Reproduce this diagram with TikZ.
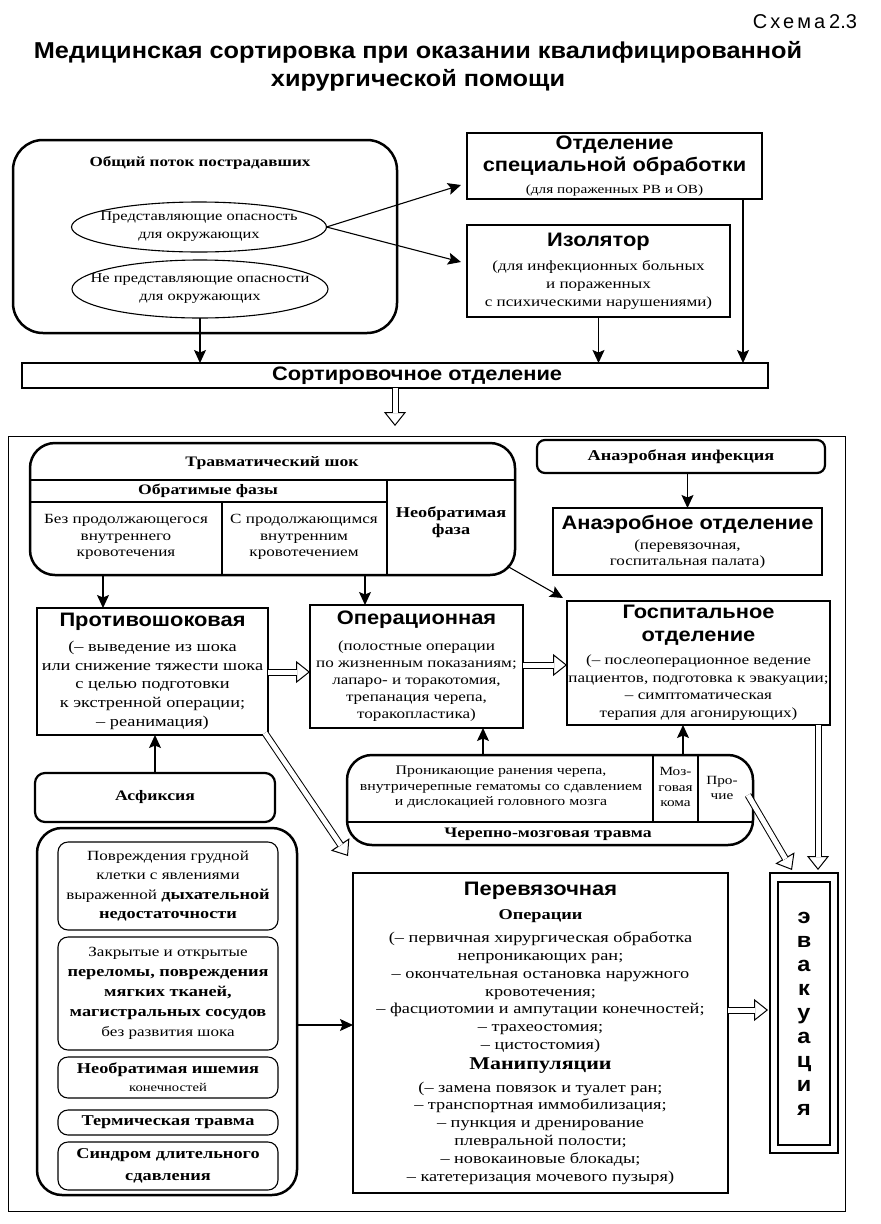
\documentclass[tikz,border=0pt]{standalone}
\usepackage{fontspec}
\setmainfont{Liberation Serif}[FakeStretch=1.22]
\newfontfamily\hs{Liberation Sans}[FakeStretch=1.12]
\newfontfamily\ttlf{Liberation Sans}[FakeStretch=1.1]
\newfontfamily\schf{Liberation Sans}[LetterSpace=15]
\newfontfamily\schn{Liberation Sans}
\usetikzlibrary{arrows.meta,calc,shapes.geometric}
\tikzset{
  every node/.style={inner sep=0pt,outer sep=0pt},
  tx/.style={align=center,font=\fontsize{14}{#1}\selectfont},
  tx/.default=17.5,
  txl/.style={align=center,font=\fontsize{15}{#1}\selectfont},
  box/.style={draw,line width=1.1pt},
  rbox/.style={draw,line width=2.5pt,rounded corners=#1},
  ibox/.style={draw,line width=1.1pt,rounded corners=10pt,minimum width=220pt},
  arr/.style={line width=1.1pt,-{Stealth[length=13pt,width=12pt,inset=2.5pt]}},
  hshaft/.style={line width=1pt,double=white,double distance=5pt},
  htip/.style={line width=1pt,-{Triangle[open,length=14pt,width=22pt]}},
}
\newcommand\hsb[1][19.5]{\hs\bfseries\fontsize{#1}{#1}\selectfont}
\newcommand\sbf{\bfseries\fontsize{15}{17}\selectfont}
\newcommand\harrow[2]{%
  \draw[htip] ($(#2)!20pt!(#1)$) -- (#2);
  \draw[hshaft] (#1) -- ($(#2)!13pt!(#1)$);}
\begin{document}
\begin{tikzpicture}[x=1pt,y=-1pt]
\fill[white] (0,0) rectangle (881,1224);
% title
\node (sch) at (805,22) {\schf\fontsize{20}{20}\selectfont Схема\hspace{4pt}\schn 2.3};
\node[align=center,font=\ttlf\bfseries\fontsize{23}{28}\selectfont] (ttl) at (418,66) {Медицинская сортировка при оказании квалифицированной\\хирургической помощи};
% top left group
\node[rbox=30pt,minimum width=384pt,minimum height=193pt] (flow) at (205,236.5) {};
\node[font=\bfseries\fontsize{14}{17}\selectfont] (flowt) at (200,163) {Общий поток пострадавших};
\node[ellipse,draw,line width=1.1pt,minimum width=255pt,minimum height=50pt] (e1) at (199,227) {};
\node[align=center,font=\fontsize{13.5}{18}\selectfont] (e1t) at (e1) {Представляющие опасность\\для окружающих};
\node[ellipse,draw,line width=1.1pt,minimum width=256pt,minimum height=58pt] (e2) at (200,289) {};
\node[align=center,font=\fontsize{13.5}{18}\selectfont] (e2t) at (e2) {Не представляющие опасности\\для окружающих};
% top right
\node[box,minimum width=295pt,minimum height=66pt,tx=22] (spec) at (614.5,166) {{\hsb Отделение}\\{\hsb специальной обработки}\\{\fontsize{12.5}{14}\selectfont(для пораженных РВ и ОВ)}};
\node[box,minimum width=263pt,minimum height=92pt,tx=18] (iso) at (598.5,271) {{\hsb Изолятор}\\[6pt](для инфекционных больных\\и пораженных\\с психическими нарушениями)};
% sorting
\node[box,minimum width=746pt,minimum height=25pt] (sort) at (395,375.5) {};
\node (sortt) at (414,376) {\hsb[19.5] Сортировочное отделение};
\coordinate (s1) at ($(spec.south)+(128.5,0)$);
\draw[arr] (e1.east) -- ($(spec.west)+(-6,19)$);
\draw[arr] (e1.east) -- ($(iso.west)+(-6,-9)$);
\draw[arr] (e2.south) -- (e2.south |- sort.north);
\draw[arr] (iso.south) -- (iso.south |- sort.north);
\draw[arr] (s1) -- (s1 |- sort.north);
\coordinate (h1s) at (sort.south);
\coordinate (h1e) at ($(sort.south)+(0,38)$);
\harrow{h1s}{h1e}
% frame
\node[box,line width=1pt,minimum width=837pt,minimum height=775pt] (frame) at (426.5,823.5) {};
% shock
\node[rbox=25pt,minimum width=485pt,minimum height=132pt] (shock) at (272.5,509) {};
\draw[line width=1.1pt] (30,480) -- (515,480) (30,502) -- (387,502) (387,480) -- (387,575) (222,502) -- (222,575);
\node[font=\bfseries\fontsize{14.5}{17}\selectfont] (shk1) at (272,463) {Травматический шок};
\node[font=\bfseries\fontsize{14.5}{17}\selectfont] (shk2) at (208,491) {Обратимые фазы};
\node[align=center,font=\fontsize{14}{16.5}\selectfont] (shk3) at (126,537) {Без продолжающегося\\внутреннего\\кровотечения};
\node[align=center,font=\fontsize{14}{16.5}\selectfont] (shk4) at (304,537) {С продолжающимся\\внутренним\\кровотечением};
\node[align=center,font=\bfseries\fontsize{15}{17}\selectfont] (shk5) at (451,522) {Необратимая\\фаза};
% anaerobic
\node[rbox=8pt,line width=2.2pt,minimum width=288pt,minimum height=33pt,font=\bfseries\fontsize{15}{17}\selectfont] (ainf) at (681,456.5) {Анаэробная инфекция};
\node[box,minimum width=269pt,minimum height=67pt,tx=16] (adep) at (687.5,541.5) {{\hsb Анаэробное отделение}\\[4pt](перевязочная,\\госпитальная палата)};
\draw[arr] (adep.north |- ainf.south) -- (adep.north);
% row 2
\node[box,minimum width=231pt,minimum height=127pt,txl=18.75] (anti) at (152.5,671.5) {{\hsb Противошоковая}\\[6pt](– выведение из шока\\или снижение тяжести шока\\с целью подготовки\\к экстренной операции;\\– реанимация)};
\node[box,minimum width=213pt,minimum height=123pt,tx=17] (op) at (416.5,666.5) {{\hsb Операционная}\\[9pt](полостные операции\\по жизненным показаниям;\\лапаро- и торакотомия,\\трепанация черепа,\\торакопластика)};
\node[box,minimum width=263pt,minimum height=124pt,tx=17.7] (hosp) at (698.5,663) {{\hsb Госпитальное}\\[5pt]{\hsb отделение}\\[5pt](– послеоперационное ведение\\пациентов, подготовка к эвакуации;\\– симптоматическая\\терапия для агонирующих)};
\coordinate (a1) at ($(shock.south)+(-169.5,0)$);
\coordinate (a2) at ($(shock.south)+(92.5,0)$);
\draw[arr] (a1) -- (a1 |- anti.north);
\draw[arr] (a2) -- (a2 |- op.north);
\draw[arr] ($(shock.south east)+(-8,-9)$) -- ($(hosp.north west)+(-4,-3)$);
\coordinate (h2s) at ($(anti.east)+(0,0.5)$);
\coordinate (h2e) at (op.west |- h2s);
\harrow{h2s}{h2e}
\coordinate (h3s) at ($(op.east)+(0,-1.5)$);
\coordinate (h3e) at (hosp.west |- h3s);
\harrow{h3s}{h3e}
% TBI
\node[rbox=25pt,minimum width=406pt,minimum height=90pt] (tbi) at (550,800) {};
\draw[line width=1.1pt] (347,822) -- (753,822) (653,755) -- (653,822) (698,755) -- (698,822);
\node[align=center,font=\fontsize{13}{15.5}\selectfont] (tbi1) at (501,787) {Проникающие ранения черепа,\\внутричерепные гематомы со сдавлением\\и дислокацией головного мозга};
\node[align=center,font=\fontsize{12.5}{15.5}\selectfont] (tbi2) at (675.5,787) {Моз-\\говая\\кома};
\node[align=center,font=\fontsize{12.5}{15.5}\selectfont] (tbi3) at (722,788) {Про-\\чие};
\node[font=\bfseries\fontsize{14.5}{17}\selectfont] (tbi4) at (548,834) {Черепно-мозговая травма};
\coordinate (a3) at ($(tbi.north)+(-67,0)$);
\coordinate (a4) at ($(tbi.north)+(133,0)$);
\draw[arr] (a3) -- (a3 |- op.south);
\draw[arr] (a4) -- (a4 |- hosp.south);
% asphyxia
\node[rbox=10pt,line width=2.2pt,minimum width=240pt,minimum height=49pt,font=\bfseries\fontsize{14.5}{17}\selectfont] (asf) at (155,797.5) {Асфиксия};
\draw[arr] (asf.north) -- (asf.north |- anti.south);
% left group
\node[rbox=25pt,minimum width=260pt,minimum height=367pt] (grp) at (167,1011.5) {};
\node[ibox,minimum height=88pt,tx=19.3] (b1) at (168,886) {Повреждения грудной\\клетки с явлениями\\выраженной {\sbf дыхательной}\\{\sbf недостаточности}};
\node[ibox,minimum height=113pt,tx=20] (b2) at (168,993.5) {Закрытые и открытые\\{\sbf переломы, повреждения}\\{\sbf мягких тканей,}\\{\sbf магистральных сосудов}\\без развития шока};
\node[ibox,minimum height=41pt,tx=18] (b3) at (168,1077.5) {{\sbf Необратимая ишемия}\\{\fontsize{12}{14}\selectfont конечностей}};
\node[ibox,minimum height=25pt,tx=18] (b4) at (168,1122.5) {{\sbf Термическая травма}};
\node[ibox,minimum height=48pt,tx=22] (b5) at (168,1166) {{\sbf Синдром длительного}\\{\sbf сдавления}};
% dressing
\node[box,minimum width=375pt,minimum height=320pt,txl=17.8] (per) at (540.5,1033) {{\hsb Перевязочная}\\[7pt]{\sbf Операции}\\[5pt](– первичная хирургическая обработка\\непроникающих ран;\\– окончательная остановка наружного\\кровотечения;\\– фасциотомии и ампутации конечностей;\\– трахеостомия;\\– цистостомия)\\[2pt]{\bfseries\fontsize{18}{20}\selectfont Манипуляции}\\[5pt](– замена повязок и туалет ран;\\– транспортная иммобилизация;\\– пункция и дренирование\\плевральной полости;\\– новокаиновые блокады;\\– катетеризация мочевого пузыря)};
\coordinate (a5) at ($(grp.east)+(0,13.5)$);
\draw[arr] (a5) -- (a5 -| per.west);
% evacuation
\node[box,minimum width=68pt,minimum height=280pt] (evac) at (804,1013) {};
\node[box,minimum width=52pt,minimum height=263pt,align=center,font=\hs\bfseries\fontsize{21}{24}\selectfont] (evi) at (804,1013.5) {э\\в\\а\\к\\у\\а\\ц\\и\\я};
\coordinate (h4s) at ($(anti.south east)+(-3,-2)$);
\coordinate (h4e) at ($(per.north west)+(-5,-17)$);
\harrow{h4s}{h4e}
\coordinate (h5s) at ($(tbi.east)+(-5,-5)$);
\coordinate (h5e) at ($(evac.north)+(-12,-3)$);
\harrow{h5s}{h5e}
\coordinate (h6s) at ($(hosp.south east)+(-12,0)$);
\coordinate (h6e) at ($(h6s |- evac.north)+(0,-3)$);
\harrow{h6s}{h6e}
\coordinate (h7s) at ($(per.east)+(0,-23)$);
\coordinate (h7e) at ($(evac.west |- h7s)+(-2,0)$);
\harrow{h7s}{h7e}
\end{tikzpicture}
\end{document}
